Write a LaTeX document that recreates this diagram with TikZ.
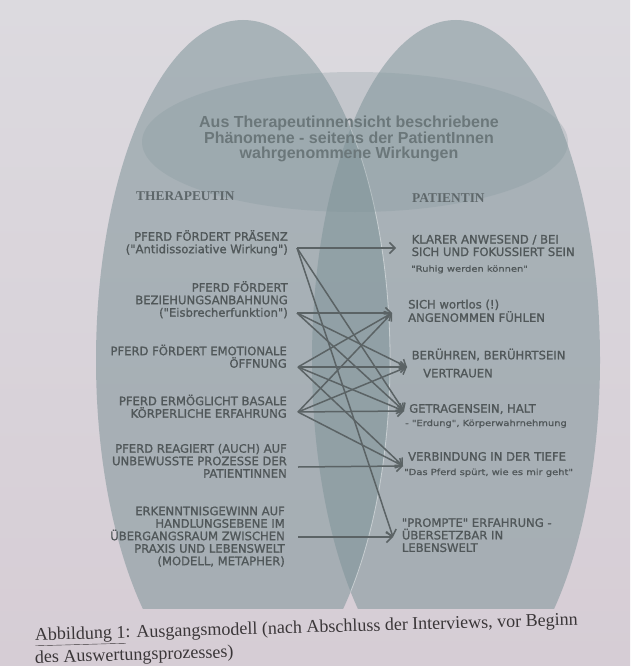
\documentclass[tikz,border=0pt]{standalone}
\usepackage{fontspec}
\setmainfont{Liberation Serif}
\newfontfamily\bodyfont[FakeBold=1.2]{DejaVu Sans}
\newfontfamily\smallfont[FakeStretch=1.18,FakeBold=0.8]{DejaVu Sans}
\newfontfamily\titlefont{Liberation Sans}
\newfontfamily\headfont{Liberation Serif}
\usetikzlibrary{arrows.meta}
\lineskiplimit=-20pt
\definecolor{pagetop}{HTML}{DCDADF}
\definecolor{pagebot}{HTML}{D6CDD5}
\definecolor{blobc}{HTML}{7F9499}
\definecolor{txt}{HTML}{505759}
\definecolor{headc}{HTML}{5E676A}
\definecolor{titlec}{HTML}{6B777A}
\definecolor{linec}{HTML}{5B6365}
\definecolor{capc}{HTML}{3A3638}
\begin{document}
\begin{tikzpicture}[x=1pt,y=-1pt,
  body/.style={inner sep=0pt, text=txt, font=\bodyfont\fontsize{11.6}{12.5}\selectfont},
  small/.style={inner sep=0pt, text=txt, font=\smallfont\fontsize{8.4}{10}\selectfont},
  head/.style={inner sep=0pt, text=headc, font=\headfont\bfseries\fontsize{13.4}{15}\selectfont},
  ttl/.style={inner sep=0pt, text=titlec, font=\titlefont\bfseries\fontsize{16}{15.5}\selectfont},
  captext/.style={inner sep=0pt, text=capc, font=\fontsize{18}{20}\selectfont},
  conn/.style={draw=linec, line width=1.5pt, -{Straight Barb[length=5.5pt,width=11pt]}},
  blob/.style={fill=blobc, fill opacity=0.55, draw=none}]
\useasboundingbox (0,0) rectangle (630,666);
\shade[top color=pagetop, bottom color=pagebot] (0,0) rectangle (630,666);
% big shapes
\begin{scope}
  \clip (0,0) rectangle (630,608);
  \fill[blob] (243,360) ellipse [x radius=147, y radius=340];
  \fill[blob] (456,360) ellipse [x radius=144, y radius=340];
  \begin{scope}
    \clip (456,360) ellipse [x radius=144, y radius=340];
    \draw[white, opacity=0.45, line width=0.8pt] (243,360) ellipse [x radius=147, y radius=340];
  \end{scope}
\end{scope}
\fill[fill=blobc, fill opacity=0.25] (355,142) ellipse [x radius=213, y radius=70];
% title
\node[ttl, anchor=north, align=center] (title) at (349,113.3)
  {\rule{0pt}{14pt}Aus Therapeutinnensicht beschriebene\\Phänomene - seitens der PatientInnen\\wahrgenommene Wirkungen};
% headers
\node[head, anchor=base west] (hth) at (136,200.7) {THERAPEUTIN};
\node[head, anchor=base west] (hpa) at (412,202.7) {PATIENTIN};
% left items
\node[body, anchor=north east, align=right] (l1) at (288,228.5)
  {\rule{0pt}{12pt}PFERD FÖRDERT PRÄSENZ\\("Antidissoziative Wirkung")};
\node[body, anchor=north east, align=right] (l2) at (288,279.5)
  {\rule{0pt}{12pt}PFERD FÖRDERT\\BEZIEHUNGSANBAHNUNG\\("Eisbrecherfunktion")};
\node[body, anchor=north east, align=right] (l3) at (287,343)
  {\rule{0pt}{12pt}PFERD FÖRDERT EMOTIONALE\\ÖFFNUNG};
\node[body, anchor=north east, align=right] (l4) at (287,393)
  {\rule{0pt}{12pt}PFERD ERMÖGLICHT BASALE\\KÖRPERLICHE ERFAHRUNG};
\node[body, anchor=north east, align=right] (l5) at (287,440.5)
  {\rule{0pt}{12pt}PFERD REAGIERT (AUCH) AUF\\UNBEWUSSTE PROZESSE DER\\PATIENTINNEN};
\node[body, anchor=north east, align=right] (l6) at (285,503)
  {\rule{0pt}{12pt}ERKENNTNISGEWINN AUF\\HANDLUNGSEBENE IM\\ÜBERGANGSRAUM ZWISCHEN\\PRAXIS UND LEBENSWELT\\(MODELL, METAPHER)};
% right items
\node[body, anchor=north west, align=left] (r1) at (411.5,231.3)
  {\rule{0pt}{12pt}KLARER ANWESEND / BEI\\SICH UND FOKUSSIERT SEIN};
\node[small, anchor=base west] (r1s) at (411,271.7) {"Ruhig werden können"};
\node[body, anchor=north west, align=left] (r2) at (408,296.3)
  {\rule{0pt}{12pt}SICH wortlos (!)\\[0.8pt]ANGENOMMEN FÜHLEN};
\node[body, anchor=base west] (r3) at (411.5,359.3) {BERÜHREN, BERÜHRTSEIN};
\node[body, anchor=base west] (r3b) at (423,377.3) {VERTRAUEN};
\node[body, anchor=base west] (r4) at (409,412.7) {GETRAGENSEIN, HALT};
\node[small, anchor=base west] (r4s) at (405,426) {- "Erdung", Körperwahrnehmung};
\node[body, anchor=base west] (r5) at (408,460.7) {VERBINDUNG IN DER TIEFE};
\node[small, anchor=base west] (r5s) at (404,475) {"Das Pferd spürt, wie es mir geht"};
\node[body, anchor=north west, align=left] (r6) at (401.7,514.7)
  {\rule{0pt}{12pt}"PROMPTE" ERFAHRUNG -\\ÜBERSETZBAR IN\\LEBENSWELT};
% connector ends
\coordinate (s1) at (297,248);
\coordinate (s2) at (297,313);
\coordinate (s3) at (298,367);
\coordinate (s4) at (298,412);
\coordinate (s5) at (298,467);
\coordinate (s6) at (298,537);
\coordinate (t1) at (396,248);
\coordinate (t2) at (392,313);
\coordinate (t3) at (407,367);
\coordinate (t4) at (404,411);
\coordinate (t5) at (403,466);
\coordinate (t6) at (393,537);
% connectors
\draw[conn] (s1) -- (t1);
\draw[conn] (s1) -- (t4);
\draw[conn] (s1) -- (t6);
\draw[conn] (s2) -- (t2);
\draw[conn] (s2) -- (t3);
\draw[conn] (s2) -- (t4);
\draw[conn] (s3) -- (t2);
\draw[conn] (s3) -- (t3);
\draw[conn] (s3) -- (t4);
\draw[conn] (s3) -- (t5);
\draw[conn] (s4) -- (t2);
\draw[conn] (s4) -- (t3);
\draw[conn] (s4) -- (t4);
\draw[conn] (s4) -- (t5);
\draw[conn] (s5) -- (t5);
\draw[conn] (s6) -- (t6);
% caption
\node[captext, anchor=base west, rotate=1.6] (cap1) at (35,640.5)
  {\underline{Abbildung 1}: Ausgangsmodell (nach Abschluss der Interviews, vor Beginn};
\node[captext, anchor=base west, rotate=1.6] (cap2) at (35,663) {des Auswertungsprozesses)};
\end{tikzpicture}
\end{document}
